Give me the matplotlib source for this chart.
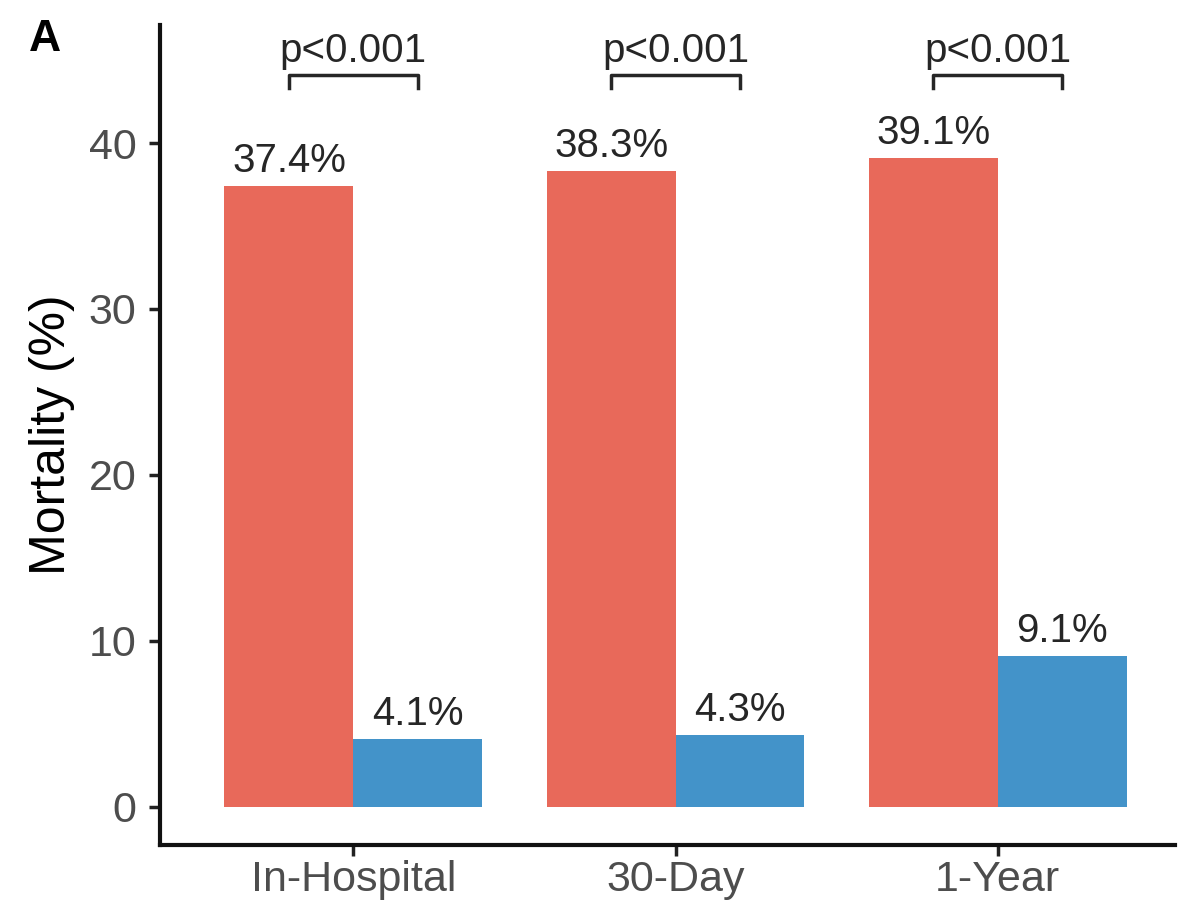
import matplotlib
matplotlib.use('Agg')
import matplotlib.pyplot as plt
import numpy as np

plt.rcParams['font.family'] = ['Liberation Sans', 'DejaVu Sans']

categories = ['In-Hospital', '30-Day', '1-Year']
group1 = [37.4, 38.3, 39.1]
group2 = [4.1, 4.3, 9.1]
pvals = ['p<0.001', 'p<0.001', 'p<0.001']

red = '#E8695A'
blue = '#4393C9'

fig = plt.figure(figsize=(12.04, 9.16), dpi=100)
ax = fig.add_axes([0.1329, 0.0775, 0.843, 0.895])

x = np.arange(1, len(categories) + 1)
w = 0.4
ax.bar(x - w / 2, group1, width=w, color=red)
ax.bar(x + w / 2, group2, width=w, color=blue)

for xi, v in zip(x - w / 2, group1):
    ax.text(xi, v + 0.85, f'{v}%', ha='center', va='baseline', fontsize=29, color='#262626')
for xi, v in zip(x + w / 2, group2):
    ax.text(xi, v + 0.85, f'{v}%', ha='center', va='baseline', fontsize=29, color='#262626')

# significance brackets
for xi, p in zip(x, pvals):
    x0, x1 = xi - w / 2, xi + w / 2
    ax.plot([x0, x0, x1, x1], [43.3, 44.1, 44.1, 43.3], color='#262626', lw=2.5)
    ax.text(xi, 44.9, p, ha='center', va='baseline', fontsize=29, color='#262626')

ax.set_xlim(0.40, 3.55)
ax.set_ylim(-2.3, 47.1)
ax.set_xticks(x)
ax.set_xticklabels(categories)
ax.set_yticks([0, 10, 20, 30, 40])
ax.tick_params(axis='both', labelsize=31, labelcolor='#4D4D4D', length=8, width=2.5, color='#222222')
ax.tick_params(axis='x', pad=3)
ax.tick_params(axis='y', pad=9)
for s in ['top', 'right']:
    ax.spines[s].set_visible(False)
for s in ['left', 'bottom']:
    ax.spines[s].set_linewidth(3)
    ax.spines[s].set_color('#111111')
ax.set_ylabel('Mortality (%)', fontsize=36, labelpad=10)

fig.text(0.037, 0.957, 'A', fontsize=32, fontweight='bold', ha='center', va='center')

fig.savefig('out.png', dpi=100)
